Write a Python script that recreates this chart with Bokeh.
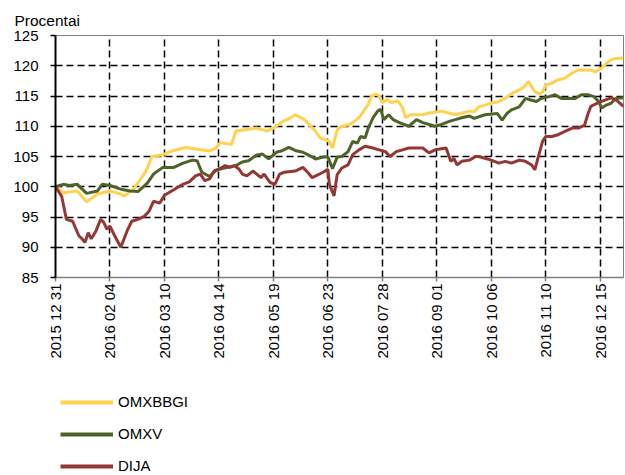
import pandas as pd
from bokeh.plotting import figure
from bokeh.layouts import column
from bokeh.models import (Range1d, FixedTicker, DatetimeTickFormatter, Legend,
                          LegendItem, ColumnDataSource)
from bokeh.embed import file_html
from bokeh.resources import INLINE

FONT = "Liberation Sans"

tick_dates = ["2015-12-31", "2016-02-04", "2016-03-10", "2016-04-14", "2016-05-19",
              "2016-06-23", "2016-07-28", "2016-09-01", "2016-10-06", "2016-11-10",
              "2016-12-15"]
y_ticks = [85, 90, 95, 100, 105, 110, 115, 120, 125]

omxbbgi_dates = ["2015-12-31", "2016-01-05", "2016-01-14", "2016-01-20", "2016-01-27",
                 "2016-02-04", "2016-02-11", "2016-02-13", "2016-02-19", "2016-02-23",
                 "2016-02-27", "2016-03-02", "2016-03-09", "2016-03-16", "2016-03-24",
                 "2016-03-31", "2016-04-08", "2016-04-12", "2016-04-15", "2016-04-22",
                 "2016-04-25", "2016-05-03", "2016-05-08", "2016-05-15", "2016-05-19",
                 "2016-05-25", "2016-05-30", "2016-06-02", "2016-06-08", "2016-06-15",
                 "2016-06-18", "2016-06-24", "2016-06-26", "2016-06-29", "2016-07-02",
                 "2016-07-07", "2016-07-10", "2016-07-13", "2016-07-16", "2016-07-19",
                 "2016-07-21", "2016-07-24", "2016-07-26", "2016-07-28", "2016-07-31",
                 "2016-08-03", "2016-08-07", "2016-08-10", "2016-08-12", "2016-08-15",
                 "2016-08-23", "2016-08-27", "2016-09-04", "2016-09-13", "2016-09-22",
                 "2016-09-25", "2016-09-28", "2016-10-02", "2016-10-06", "2016-10-11",
                 "2016-10-15", "2016-10-19", "2016-10-24", "2016-10-27", "2016-10-30",
                 "2016-11-01", "2016-11-03", "2016-11-06", "2016-11-08", "2016-11-10",
                 "2016-11-14", "2016-11-18", "2016-11-22", "2016-11-27", "2016-12-01",
                 "2016-12-09", "2016-12-12", "2016-12-16", "2016-12-19", "2016-12-22",
                 "2016-12-25", "2016-12-30"]
omxbbgi_values = [100.0, 99.0, 99.3, 97.5, 98.8,
                  99.3, 98.8, 98.4, 99.6, 101.0,
                  102.5, 105.0, 105.3, 106.0, 106.5,
                  106.2, 105.9, 106.4, 107.3, 107.0,
                  109.2, 109.5, 109.7, 109.2, 109.7,
                  110.8, 111.4, 111.9, 111.1, 109.2,
                  108.1, 107.5, 106.4, 109.4, 110.0,
                  110.3, 110.8, 111.4, 112.5, 113.6,
                  115.0, 115.3, 115.0, 113.9, 114.4,
                  113.9, 114.2, 113.1, 111.4, 111.9,
                  111.9, 112.2, 112.5, 111.9, 112.5,
                  112.4, 113.2, 113.5, 113.8, 114.1,
                  114.6, 115.4, 116.0, 116.5, 117.4,
                  116.5, 115.7, 115.4, 115.6, 116.8,
                  117.1, 117.7, 117.9, 118.8, 119.3,
                  119.3, 119.0, 119.6, 120.4, 121.0,
                  121.2, 121.3]

omxv_dates = ["2015-12-31", "2016-01-05", "2016-01-09", "2016-01-14", "2016-01-20",
              "2016-01-27", "2016-01-30", "2016-02-04", "2016-02-11", "2016-02-17",
              "2016-02-22", "2016-02-28", "2016-03-03", "2016-03-09", "2016-03-16",
              "2016-03-22", "2016-03-28", "2016-03-31", "2016-04-03", "2016-04-08",
              "2016-04-12", "2016-04-16", "2016-04-25", "2016-04-29", "2016-05-03",
              "2016-05-08", "2016-05-12", "2016-05-16", "2016-05-21", "2016-05-25",
              "2016-05-29", "2016-06-02", "2016-06-07", "2016-06-11", "2016-06-15",
              "2016-06-20", "2016-06-23", "2016-06-26", "2016-06-29", "2016-07-02",
              "2016-07-06", "2016-07-09", "2016-07-12", "2016-07-14", "2016-07-17",
              "2016-07-19", "2016-07-22", "2016-07-25", "2016-07-27", "2016-07-29",
              "2016-08-01", "2016-08-04", "2016-08-08", "2016-08-14", "2016-08-19",
              "2016-08-23", "2016-08-31", "2016-09-04", "2016-09-09", "2016-09-13",
              "2016-09-17", "2016-09-22", "2016-09-25", "2016-10-02", "2016-10-10",
              "2016-10-13", "2016-10-16", "2016-10-19", "2016-10-24", "2016-10-28",
              "2016-11-01", "2016-11-04", "2016-11-07", "2016-11-12", "2016-11-16",
              "2016-11-20", "2016-11-29", "2016-12-03", "2016-12-07", "2016-12-11",
              "2016-12-14", "2016-12-16", "2016-12-19", "2016-12-22", "2016-12-25",
              "2016-12-30"]
omxv_values = [100.0, 100.4, 100.2, 100.4, 98.9,
               99.3, 100.4, 100.2, 99.6, 99.3,
               99.2, 100.6, 102.1, 103.2, 103.2,
               103.9, 104.4, 104.3, 102.4, 101.7,
               102.7, 103.0, 103.5, 104.1, 104.3,
               105.2, 105.4, 104.6, 105.7, 106.0,
               106.5, 106.0, 105.7, 105.2, 104.6,
               104.9, 104.9, 103.0, 104.9, 105.0,
               105.8, 107.5, 107.2, 108.3, 108.1,
               109.7, 111.4, 112.5, 112.8, 111.1,
               111.9, 111.1, 110.6, 110.0, 111.1,
               110.6, 110.0, 110.3, 110.8, 111.1,
               111.4, 111.7, 111.3, 111.9, 112.1,
               111.0, 112.1, 112.7, 113.2, 114.6,
               114.3, 114.1, 114.6, 114.9, 115.2,
               114.6, 114.6, 115.2, 115.2, 114.9,
               114.1, 113.0, 113.5, 113.8, 114.6,
               114.7]

dija_dates = ["2015-12-31", "2016-01-04", "2016-01-07", "2016-01-11", "2016-01-15",
              "2016-01-17", "2016-01-19", "2016-01-21", "2016-01-23", "2016-01-26",
              "2016-01-29", "2016-01-31", "2016-02-02", "2016-02-04", "2016-02-07",
              "2016-02-11", "2016-02-15", "2016-02-18", "2016-02-22", "2016-02-26",
              "2016-02-29", "2016-03-03", "2016-03-07", "2016-03-10", "2016-03-16",
              "2016-03-21", "2016-03-26", "2016-03-30", "2016-04-02", "2016-04-05",
              "2016-04-08", "2016-04-11", "2016-04-14", "2016-04-18", "2016-04-21",
              "2016-04-24", "2016-04-27", "2016-04-29", "2016-05-02", "2016-05-06",
              "2016-05-11", "2016-05-13", "2016-05-17", "2016-05-20", "2016-05-23",
              "2016-05-26", "2016-06-02", "2016-06-07", "2016-06-10", "2016-06-13",
              "2016-06-20", "2016-06-23", "2016-06-24", "2016-06-27", "2016-06-29",
              "2016-07-02", "2016-07-06", "2016-07-09", "2016-07-13", "2016-07-17",
              "2016-07-22", "2016-07-26", "2016-07-30", "2016-08-02", "2016-08-06",
              "2016-08-10", "2016-08-14", "2016-08-23", "2016-08-27", "2016-08-31",
              "2016-09-07", "2016-09-10", "2016-09-12", "2016-09-14", "2016-09-17",
              "2016-09-22", "2016-09-26", "2016-09-28", "2016-10-02", "2016-10-06",
              "2016-10-11", "2016-10-15", "2016-10-19", "2016-10-24", "2016-10-28",
              "2016-11-01", "2016-11-03", "2016-11-05", "2016-11-08", "2016-11-10",
              "2016-11-14", "2016-11-18", "2016-11-22", "2016-11-27", "2016-12-01",
              "2016-12-05", "2016-12-07", "2016-12-09", "2016-12-13", "2016-12-16",
              "2016-12-19", "2016-12-22", "2016-12-25", "2016-12-30"]
dija_values = [100.0, 98.4, 94.6, 94.3, 91.9,
               91.4, 90.8, 92.4, 91.4, 92.7,
               94.6, 94.1, 93.0, 93.5, 91.9,
               90.0, 92.7, 94.3, 94.6, 95.1,
               95.9, 97.6, 97.3, 98.6, 99.5,
               100.3, 100.8, 101.8, 102.1, 101.0,
               101.3, 102.6, 102.9, 103.5, 103.2,
               103.5, 102.9, 102.1, 101.8, 102.6,
               101.5, 102.1, 100.7, 100.4, 102.1,
               102.4, 102.6, 103.2, 102.4, 101.5,
               102.4, 102.9, 100.4, 98.5, 102.0,
               103.1, 103.6, 105.3, 106.1, 106.7,
               106.4, 106.1, 105.8, 105.0, 105.8,
               106.1, 106.4, 106.4, 105.6, 106.1,
               106.4, 104.2, 104.7, 103.6, 104.2,
               104.4, 105.0, 105.0, 104.7, 104.4,
               103.9, 104.2, 103.9, 104.4, 104.2,
               103.6, 102.8, 104.7, 107.5, 108.3,
               108.3, 108.6, 109.1, 109.7, 109.7,
               110.2, 111.9, 113.3, 113.8, 114.1,
               114.4, 114.7, 114.4, 113.3]

series = [
    ("OMXBBGI", omxbbgi_dates, omxbbgi_values, "#FFD24F"),
    ("OMXV", omxv_dates, omxv_values, "#4F6228"),
    ("DIJA", dija_dates, dija_values, "#953735"),
]

x_start = pd.Timestamp("2015-12-31")
x_end = pd.Timestamp("2016-12-30")

p = figure(frame_width=568, frame_height=242, x_axis_type="datetime",
           x_range=Range1d(x_start, x_end), y_range=Range1d(85, 125),
           output_backend="svg", toolbar_location=None,
           min_border_left=55, min_border_right=1, min_border_top=35,
           min_border_bottom=0)
p.background_fill_color = "white"
p.border_fill_color = "white"
p.outline_line_color = "#7f7f7f"
p.outline_line_width = 1

p.title.text = "Procentai"
p.title.text_font = FONT
p.title.text_font_size = "15.5px"
p.title.text_font_style = "normal"
p.title.text_color = "black"
p.title.align = "left"
p.title.offset = -41
p.title.standoff = 13

for name, d, v, c in series:
    src = ColumnDataSource(dict(x=pd.to_datetime(d), y=v))
    p.line("x", "y", source=src, line_color=c, line_width=3)

tick_ms = [pd.Timestamp(t).value // 10**6 for t in tick_dates]
xa = p.xaxis[0]
xa.ticker = FixedTicker(ticks=tick_ms)
fmt = "%Y %m %d"
xa.formatter = DatetimeTickFormatter(days=fmt, months=fmt, years=fmt, hours=fmt,
                                     hourmin=fmt, minutes=fmt, minsec=fmt, seconds=fmt,
                                     milliseconds=fmt, microseconds=fmt)
xa.major_label_orientation = 3.14159265 / 2
xa.major_label_text_font = FONT
xa.major_label_text_font_size = "15px"
xa.major_label_text_color = "black"
xa.axis_line_color = "#7f7f7f"
xa.axis_line_width = 1.5
xa.major_tick_line_color = "#7f7f7f"
xa.major_tick_line_width = 1.5
xa.major_tick_out = 4
xa.major_tick_in = 0
xa.minor_tick_line_color = None
xa.major_label_standoff = 2

ya = p.yaxis[0]
ya.ticker = FixedTicker(ticks=y_ticks)
ya.major_label_text_font = FONT
ya.major_label_text_font_size = "15px"
ya.major_label_text_color = "black"
ya.axis_line_color = "black"
ya.axis_line_width = 2
ya.major_tick_line_color = "black"
ya.major_tick_line_width = 1.5
ya.major_tick_out = 5
ya.major_tick_in = 0
ya.minor_tick_line_color = None
ya.major_label_standoff = 12

for g in (p.xgrid[0], p.ygrid[0]):
    g.grid_line_color = "black"
    g.grid_line_dash = "7 4"
    g.grid_line_width = 1.5
p.xgrid[0].ticker = xa.ticker
p.ygrid[0].ticker = ya.ticker

# legend figure below the chart (legend keys only, no data drawn)
lg = figure(width=624, height=113, x_range=Range1d(0, 1), y_range=Range1d(0, 1),
            x_axis_location=None, y_axis_location=None,
            output_backend="svg", toolbar_location=None,
            min_border_left=55, min_border_right=1, min_border_top=27,
            min_border_bottom=0)
lg.outline_line_color = None
lg.xgrid.visible = False
lg.ygrid.visible = False
lg.background_fill_color = "white"
lg.border_fill_color = "white"
items = []
for name, d, v, c in series:
    r = lg.line(x=[float("nan")], y=[float("nan")], line_color=c, line_width=4)
    items.append(LegendItem(label=name, renderers=[r]))
legend = Legend(items=items, location="top_left", orientation="vertical",
                label_text_font=FONT, label_text_font_size="15px",
                label_text_color="black",
                glyph_width=53, glyph_height=16, label_height=16, label_standoff=5,
                spacing=15, padding=0, margin=5, border_line_color=None,
                background_fill_alpha=0)
lg.add_layout(legend, "center")

layout = column(p, lg, spacing=0)
open("out.html", "w").write(file_html(layout, INLINE))
